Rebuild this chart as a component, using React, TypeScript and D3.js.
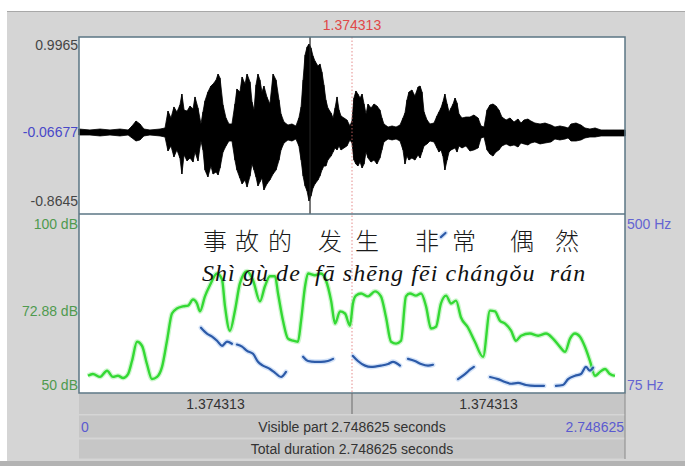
import React from "react";
import * as d3 from "d3";

// ---- data ----
const duration = 2.748625;
const cursorTime = 1.374313;
const markTime = 1.163;

const ampTop = 0.9965;
const ampBottom = -0.8645;
const ampMid = "-0.06677";

// waveform envelope (seconds, max amplitude, min amplitude)
const waveTime = [
  0, 0.055, 0.106, 0.156, 0.206, 0.247, 0.267, 0.287, 0.307, 0.327,
  0.357, 0.408, 0.433, 0.448, 0.463, 0.478, 0.493, 0.508, 0.518, 0.529,
  0.544, 0.559, 0.574, 0.584, 0.599, 0.614, 0.624, 0.634, 0.649, 0.664,
  0.675, 0.69, 0.7, 0.71, 0.725, 0.74, 0.755, 0.77, 0.785, 0.795,
  0.81, 0.821, 0.836, 0.846, 0.861, 0.871, 0.881, 0.891, 0.901, 0.911,
  0.921, 0.931, 0.946, 0.961, 0.977, 0.992, 1.007, 1.017, 1.032, 1.052,
  1.072, 1.092, 1.107, 1.118, 1.128, 1.138, 1.148, 1.158, 1.168, 1.178,
  1.188, 1.203, 1.213, 1.223, 1.233, 1.243, 1.253, 1.269, 1.279, 1.289,
  1.299, 1.309, 1.319, 1.334, 1.349, 1.364, 1.374, 1.384, 1.394, 1.404,
  1.415, 1.425, 1.435, 1.445, 1.455, 1.47, 1.485, 1.5, 1.515, 1.525,
  1.535, 1.556, 1.576, 1.596, 1.616, 1.631, 1.641, 1.651, 1.661, 1.676,
  1.691, 1.707, 1.717, 1.727, 1.737, 1.752, 1.767, 1.787, 1.802, 1.812,
  1.822, 1.832, 1.842, 1.853, 1.863, 1.873, 1.883, 1.893, 1.903, 1.913,
  1.928, 1.948, 1.968, 1.988, 2.009, 2.024, 2.039, 2.054, 2.069, 2.084,
  2.099, 2.114, 2.129, 2.15, 2.17, 2.19, 2.21, 2.225, 2.24, 2.26,
  2.275, 2.295, 2.321, 2.346, 2.376, 2.396, 2.421, 2.447, 2.462, 2.477,
  2.502, 2.527, 2.547, 2.572, 2.598, 2.628, 2.658, 2.688, 2.718, 2.7486,
];
const waveMax = [
  0.029, 0.019, 0.029, 0.019, 0.029, 0.019, 0.061, 0.113, 0.082, 0.029,
  0.019, 0.029, 0.04, 0.218, 0.145, 0.261, 0.208, 0.282, 0.397, 0.229,
  0.218, 0.271, 0.24, 0.366, 0.25, 0.082, 0.208, 0.324, 0.418, 0.481,
  0.502, 0.544, 0.607, 0.565, 0.282, 0.145, 0.082, 0.082, 0.292, 0.45,
  0.418, 0.576, 0.502, 0.607, 0.523, 0.313, 0.229, 0.492, 0.607, 0.544,
  0.418, 0.481, 0.366, 0.292, 0.607, 0.544, 0.334, 0.187, 0.103, 0.071,
  0.082, 0.061, 0.145, 0.261, 0.544, 0.807, 0.891, 0.923, 0.881, 0.797,
  0.744, 0.692, 0.713, 0.628, 0.492, 0.334, 0.25, 0.197, 0.145, 0.25,
  0.366, 0.229, 0.166, 0.145, 0.124, 0.061, 0.113, 0.355, 0.429, 0.397,
  0.355, 0.397, 0.292, 0.187, 0.292, 0.25, 0.292, 0.271, 0.229, 0.145,
  0.082, 0.05, 0.061, 0.05, 0.071, 0.145, 0.197, 0.334, 0.418, 0.439,
  0.376, 0.471, 0.481, 0.418, 0.208, 0.124, 0.082, 0.092, 0.166, 0.208,
  0.25, 0.313, 0.397, 0.292, 0.208, 0.25, 0.292, 0.355, 0.303, 0.187,
  0.145, 0.155, 0.155, 0.176, 0.145, 0.061, 0.05, 0.229, 0.282, 0.292,
  0.271, 0.229, 0.155, 0.124, 0.145, 0.103, 0.134, 0.092, 0.124, 0.134,
  0.113, 0.092, 0.082, 0.092, 0.071, 0.05, 0.061, 0.05, 0.04, 0.082,
  0.092, 0.071, 0.04, 0.029, 0.04, 0.019, 0.019, 0.019, 0.019, 0.019,
];
const waveMin = [
  -0.034, -0.034, -0.044, -0.034, -0.044, -0.034, -0.065, -0.097, -0.086, -0.044,
  -0.034, -0.044, -0.055, -0.202, -0.149, -0.265, -0.191, -0.276, -0.444, -0.244,
  -0.307, -0.276, -0.318, -0.213, -0.307, -0.097, -0.191, -0.402, -0.475, -0.36,
  -0.444, -0.423, -0.454, -0.381, -0.213, -0.149, -0.097, -0.097, -0.297, -0.402,
  -0.486, -0.549, -0.507, -0.581, -0.465, -0.339, -0.402, -0.475, -0.57, -0.528,
  -0.486, -0.612, -0.549, -0.507, -0.444, -0.402, -0.297, -0.191, -0.118, -0.086,
  -0.097, -0.076, -0.149, -0.297, -0.465, -0.57, -0.623, -0.728, -0.675, -0.591,
  -0.549, -0.507, -0.465, -0.402, -0.36, -0.36, -0.297, -0.255, -0.213, -0.17,
  -0.191, -0.149, -0.191, -0.17, -0.149, -0.086, -0.118, -0.297, -0.339, -0.36,
  -0.318, -0.381, -0.339, -0.213, -0.276, -0.318, -0.297, -0.339, -0.276, -0.191,
  -0.107, -0.076, -0.086, -0.076, -0.097, -0.191, -0.339, -0.255, -0.297, -0.276,
  -0.297, -0.244, -0.276, -0.213, -0.149, -0.128, -0.097, -0.107, -0.17, -0.213,
  -0.191, -0.255, -0.402, -0.297, -0.213, -0.191, -0.181, -0.17, -0.213, -0.149,
  -0.17, -0.149, -0.202, -0.191, -0.17, -0.065, -0.055, -0.191, -0.234, -0.255,
  -0.213, -0.191, -0.149, -0.128, -0.149, -0.139, -0.16, -0.118, -0.128, -0.139,
  -0.118, -0.107, -0.128, -0.118, -0.107, -0.076, -0.086, -0.076, -0.065, -0.097,
  -0.097, -0.086, -0.065, -0.055, -0.055, -0.044, -0.044, -0.044, -0.044, -0.044,
];

// intensity contour (seconds, dB)
const intensityTime = [
  0.045, 0.07, 0.106, 0.141, 0.171, 0.196, 0.222, 0.247, 0.267, 0.292,
  0.317, 0.342, 0.367, 0.393, 0.418, 0.443, 0.468, 0.493, 0.523, 0.549,
  0.574, 0.594, 0.609, 0.634, 0.659, 0.695, 0.72, 0.735, 0.76, 0.785,
  0.81, 0.846, 0.876, 0.911, 0.936, 0.961, 0.987, 1.002, 1.027, 1.052,
  1.077, 1.102, 1.118, 1.138, 1.153, 1.188, 1.218, 1.243, 1.269, 1.289,
  1.314, 1.339, 1.364, 1.379, 1.394, 1.42, 1.455, 1.49, 1.52, 1.545,
  1.571, 1.596, 1.621, 1.646, 1.666, 1.696, 1.722, 1.747, 1.772, 1.797,
  1.822, 1.848, 1.873, 1.898, 1.923, 1.958, 1.993, 2.034, 2.069, 2.094,
  2.119, 2.145, 2.175, 2.2, 2.225, 2.27, 2.311, 2.351, 2.386, 2.421,
  2.447, 2.472, 2.497, 2.522, 2.547, 2.572, 2.598, 2.623, 2.648, 2.673,
  2.698,
];
const intensityDb = [
  54.8, 55.3, 54.5, 56.2, 54.5, 54.8, 54.2, 55.3, 59.0, 64.3,
  63.2, 58.1, 53.9, 54.5, 57.3, 64.6, 72.2, 73.6, 74.2, 74.4,
  76.1, 75.0, 72.8, 77.0, 80.1, 83.4, 81.7, 74.2, 67.4, 73.0,
  80.6, 84.0, 81.5, 75.6, 79.8, 82.6, 82.6, 77.8, 70.2, 65.2,
  64.6, 64.3, 70.2, 79.8, 83.4, 82.9, 83.4, 81.5, 75.8, 69.4,
  72.8, 72.2, 68.8, 75.0, 77.2, 77.8, 77.0, 78.4, 77.0, 71.3,
  64.3, 63.8, 64.6, 77.0, 77.8, 77.2, 77.8, 74.2, 68.0, 68.5,
  75.0, 77.2, 75.0, 75.8, 71.1, 68.3, 64.3, 60.1, 73.0, 72.8,
  70.2, 69.4, 67.4, 64.6, 66.0, 66.6, 66.0, 66.6, 65.2, 62.9,
  61.5, 65.2, 66.6, 65.7, 62.9, 59.0, 54.8, 55.9, 56.7, 55.3,
  54.8,
];

// pitch contour, voiced stretches only (seconds, Hz)
const pitchTime = [
  [0.614, 0.644, 0.67, 0.695, 0.72, 0.745, 0.77],
  [0.795, 0.821, 0.846, 0.876, 0.901, 0.926, 0.961, 0.987, 1.017, 1.042],
  [1.128, 1.153, 1.188, 1.218, 1.253, 1.279],
  [1.379, 1.404, 1.44, 1.47, 1.52, 1.556, 1.581, 1.616],
  [1.656, 1.691, 1.722, 1.757, 1.782],
  [1.822, 1.845],
  [1.908, 1.943, 1.973, 1.988],
  [2.069, 2.109, 2.145, 2.175, 2.21, 2.25, 2.295, 2.341],
  [2.401, 2.436, 2.462, 2.497, 2.527, 2.552, 2.572, 2.588],
];
const pitchHz = [
  [230, 216, 209, 199, 187, 197, 192],
  [190, 185, 175, 168, 149, 140, 132, 123, 113, 125],
  [161, 151, 149, 149, 151, 156],
  [163, 151, 140, 137, 140, 144, 149, 140],
  [156, 151, 144, 140, 142],
  [445, 455],
  [108, 120, 132, 137],
  [113, 108, 101, 97, 99, 94, 92, 92],
  [92, 94, 108, 116, 120, 137, 128, 135],
];

// transcription laid over the analysis panel
const hanzi = ["事", "故", "的", "发", "生", "非", "常", "偶", "然"];
const hanziTime = [0.685, 0.846, 1.012, 1.264, 1.45, 1.752, 1.938, 2.23, 2.457];
const pinyin = "Shì gù de  fā shēng fēi chángǒu  rán";
const pinyinSpan = [0.619, 2.548];

const W = 685;
const H = 466;
const left = 79;
const right = 625;
const waveTopY = 37;
const midY = 214;
const bottomY = 393;

const sans = "'Liberation Sans', Arial, sans-serif";

export default function App() {
  const x = d3.scaleLinear().domain([0, duration]).range([left, right]);
  const yWave = d3.scaleLinear().domain([ampBottom, ampTop]).range([midY, waveTopY]);
  const yDb = d3.scaleLinear().domain([50, 100]).range([bottomY, midY]);
  const yHz = d3.scaleLinear().domain([75, 500]).range([bottomY, midY]);

  const idx = d3.range(waveTime.length);
  const waveArea = d3
    .area<number>()
    .x((i) => x(waveTime[i]))
    .y0((i) => yWave(waveMin[i]))
    .y1((i) => yWave(waveMax[i]));

  const intensityLine = d3
    .line<number>()
    .x((i) => x(intensityTime[i]))
    .y((i) => yDb(intensityDb[i]))
    .curve(d3.curveMonotoneX);
  const intensityPath = intensityLine(d3.range(intensityTime.length)) || "";

  const pitchPaths = pitchTime.map((ts, s) =>
    d3
      .line<number>()
      .x((i) => x(ts[i]))
      .y((i) => yHz(pitchHz[s][i]))
      .curve(d3.curveMonotoneX)(d3.range(ts.length)) || ""
  );

  const cx = x(cursorTime);
  const mx = x(markTime);

  return (
    <svg
      width={W}
      height={H}
      style={{ position: "absolute", left: 0, top: 0 }}
      fontFamily={sans}
    >
      {/* window background */}
      <rect x={0} y={0} width={W} height={H} fill="#ffffff" />
      <rect x={7} y={11} width={W - 7} height={H - 11} fill="#d5d5d5" />
      <line x1={7} x2={W} y1={11.5} y2={11.5} stroke="#a8a8a8" />
      <rect x={0} y={461} width={W} height={5} fill="#b3b3b3" />

      {/* panels */}
      <rect x={left} y={waveTopY} width={right - left} height={bottomY - waveTopY} fill="#ffffff" />

      <path d={waveArea(idx) || ""} fill="#000" stroke="#000" strokeWidth={0.8} />
      {idx.map((i) => (
        <line
          key={i}
          x1={x(waveTime[i])}
          x2={x(waveTime[i])}
          y1={yWave(waveMax[i])}
          y2={yWave(waveMin[i])}
          stroke="#000"
          strokeWidth={1}
        />
      ))}

      <line x1={mx} x2={mx} y1={waveTopY} y2={midY} stroke="#222" strokeWidth={1.2} />
      <line
        x1={cx}
        x2={cx}
        y1={waveTopY}
        y2={bottomY}
        stroke="#e07070"
        strokeWidth={1}
        strokeDasharray="1.5,2"
        opacity={0.8}
      />

      {/* intensity (green) */}
      <path d={intensityPath} fill="none" stroke="#aef0ae" strokeWidth={5} opacity={0.6} />
      <path d={intensityPath} fill="none" stroke="#34d934" strokeWidth={2.4} />

      {/* pitch (blue) */}
      {pitchPaths.map((d, i) => (
        <g key={i}>
          <path d={d} fill="none" stroke="#b8d0f4" strokeWidth={5} opacity={0.6} strokeLinecap="round" />
          <path d={d} fill="none" stroke="#2c5aa8" strokeWidth={2.2} strokeLinecap="round" />
        </g>
      ))}

      {/* transcription */}
      {hanzi.map((c, i) => (
        <text
          key={c + i}
          x={x(hanziTime[i])}
          y={250}
          textAnchor="middle"
          fontSize={24}
          fontWeight={300}
          fontFamily="'Noto Sans CJK SC', sans-serif"
          fill="#1a1a1a"
        >
          {c}
        </text>
      ))}
      <text
        x={x(pinyinSpan[0])}
        y={281}
        fontSize={24}
        fontStyle="italic"
        fontFamily="'Liberation Serif', 'Times New Roman', serif"
        fill="#111"
        textLength={x(pinyinSpan[1]) - x(pinyinSpan[0])}
        lengthAdjust="spacing"
        style={{ whiteSpace: "pre" }}
      >
        {pinyin}
      </text>

      {/* panel frames */}
      <rect
        x={left}
        y={waveTopY}
        width={right - left}
        height={bottomY - waveTopY}
        fill="none"
        stroke="#5b7684"
        strokeWidth={1.5}
      />
      <line x1={left} x2={right} y1={midY} y2={midY} stroke="#5b7684" strokeWidth={1.5} />

      {/* left / right scale labels */}
      <g fontSize={14}>
        <text x={left - 1} y={waveTopY + 13} textAnchor="end" fill="#454545">{ampTop}</text>
        <text x={left - 1} y={yWave(0) + 5} textAnchor="end" fill="#4848c8">{ampMid}</text>
        <text x={left - 1} y={midY - 8} textAnchor="end" fill="#454545">{ampBottom}</text>
        <text x={left - 1} y={midY + 15} textAnchor="end" fill="#4f9a4f">100 dB</text>
        <text x={left - 1} y={yDb(72.88) + 5} textAnchor="end" fill="#4f9a4f">72.88 dB</text>
        <text x={left - 1} y={bottomY - 3} textAnchor="end" fill="#4f9a4f">50 dB</text>
        <text x={right + 2} y={midY + 15} fill="#6464d2">500 Hz</text>
        <text x={right + 2} y={bottomY - 3} fill="#6464d2">75 Hz</text>
        <text x={cx} y={30} textAnchor="middle" fill="#e04848">{cursorTime}</text>
      </g>

      {/* time bars */}
      <rect x={left} y={bottomY + 1} width={right - left} height={20} fill="#c6c6c6" />
      <rect x={left} y={415.5} width={right - left} height={22} fill="#c6c6c6" />
      <rect x={left} y={439.5} width={right - left} height={19} fill="#c6c6c6" />
      <line x1={cx} x2={cx} y1={bottomY} y2={414} stroke="#6a6a6a" />
      <line x1={right} x2={right} y1={bottomY} y2={459} stroke="#8a8a8a" />
      <g fontSize={14} textAnchor="middle" fill="#333">
        <text x={(left + cx) / 2} y={409}>{cursorTime}</text>
        <text x={(cx + right) / 2} y={409}>{cursorTime}</text>
        <text x={(left + right) / 2} y={432}>{`Visible part ${duration} seconds`}</text>
        <text x={(left + right) / 2} y={454}>{`Total duration ${duration} seconds`}</text>
      </g>
      <text x={left + 2} y={432} fontSize={14} fill="#5a5ad0">0</text>
      <text x={right - 1} y={432} fontSize={14} textAnchor="end" fill="#5a5ad0">{duration}</text>
    </svg>
  );
}
